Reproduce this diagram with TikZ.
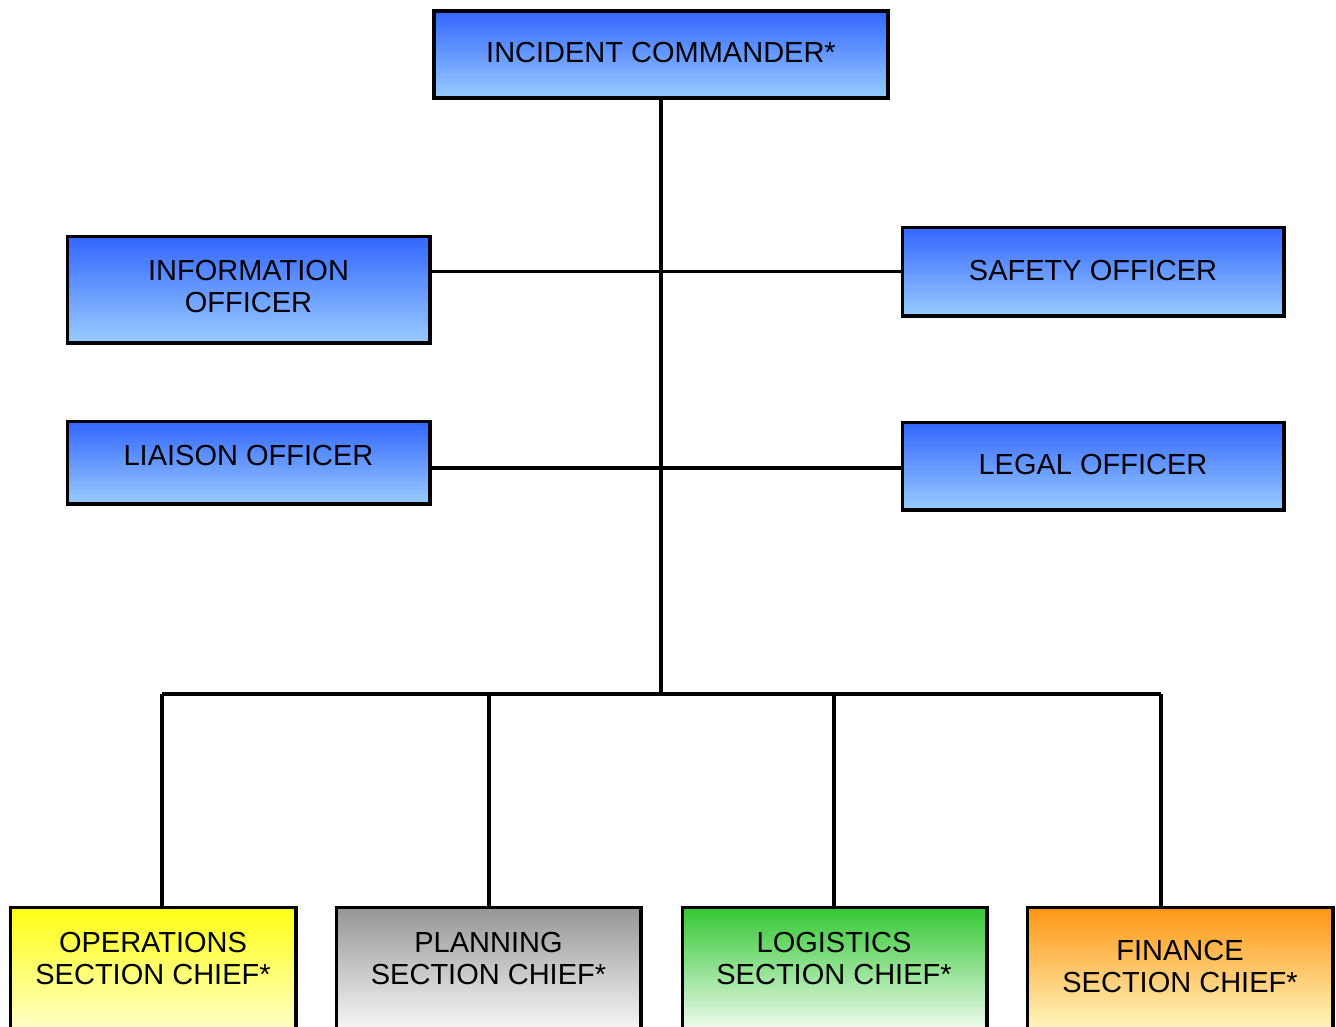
\documentclass[tikz,border=0pt]{standalone}
\usepackage{fontspec}
\setmainfont{Liberation Sans}
\definecolor{blueTop}{RGB}{51,102,255}
\definecolor{blueBot}{RGB}{153,204,255}
\definecolor{yelTop}{RGB}{255,255,20}
\definecolor{yelBot}{RGB}{255,255,215}
\definecolor{grayTop}{RGB}{150,150,150}
\definecolor{grayBot}{RGB}{255,255,255}
\definecolor{grnTop}{RGB}{51,200,51}
\definecolor{grnBot}{RGB}{255,255,255}
\definecolor{orgTop}{RGB}{255,150,20}
\definecolor{orgBot}{RGB}{255,255,205}
\begin{document}
\begin{tikzpicture}[x=1pt,y=-1pt,
  box/.style={draw=black, line width=3.5pt, rectangle, inner sep=0pt},
  bluebox/.style={box, top color=blueTop, bottom color=blueBot},
  lbl/.style={font=\fontsize{29}{32}\selectfont, align=center, inner sep=0pt, text=black},
  wire/.style={line width=3.4pt}]
\useasboundingbox (0,0) rectangle (1336,1027);
\clip (0,0) rectangle (1336,1027);

% command staff
\node[bluebox, minimum width=454pt, minimum height=87pt] (ic) at (661,54.5) {};
\node[bluebox, minimum width=362.5pt, minimum height=106.5pt] (info) at (248.75,289.75) {};
\node[bluebox, minimum width=362.5pt, minimum height=82.5pt] (liaison) at (248.75,462.75) {};
\node[bluebox, minimum width=381.5pt, minimum height=88.5pt] (safety) at (1093.25,271.75) {};
\node[bluebox, minimum width=381.5pt, minimum height=87.5pt] (legal) at (1093.25,466.25) {};

% general staff
\node[box, top color=yelTop, bottom color=yelBot, minimum width=285.5pt, minimum height=132.5pt] (ops) at (153.25,973.75) {};
\node[box, top color=grayTop, bottom color=grayBot, minimum width=304.5pt, minimum height=132.5pt] (plan) at (488.75,973.75) {};
\node[box, top color=grnTop, bottom color=grnBot, minimum width=304.5pt, minimum height=132.5pt] (logi) at (834.75,973.75) {};
\node[box, top color=orgTop, bottom color=orgBot, minimum width=305.5pt, minimum height=132.5pt] (fin) at (1180.25,973.75) {};

% labels
\node[lbl] (tic) at (661,53) {INCIDENT COMMANDER*};
\node[lbl] (tinfo) at (248.5,287) {INFORMATION\\OFFICER};
\node[lbl] (tliaison) at (248.5,456) {LIAISON OFFICER};
\node[lbl] (tsafety) at (1093,271) {SAFETY OFFICER};
\node[lbl] (tlegal) at (1093,465) {LEGAL OFFICER};
\node[lbl] (tops) at (153,959) {OPERATIONS\\SECTION CHIEF*};
\node[lbl] (tplan) at (488.5,959) {PLANNING\\SECTION CHIEF*};
\node[lbl] (tlogi) at (834,959) {LOGISTICS\\SECTION CHIEF*};
\node[lbl] (tfin) at (1180,967) {FINANCE\\SECTION CHIEF*};

% connectors
\coordinate (bus) at (661,694);
\coordinate (d1) at (162,694);
\coordinate (d2) at (489,694);
\coordinate (d3) at (834,694);
\coordinate (d4) at (1161,694);
\draw[wire] (ic.south) -- (bus);
\draw[wire] (safety.west -| info.east) -- (safety.west);
\draw[wire] (0,468 -| liaison.east) -- (0,468 -| legal.west);
\draw[wire] (d1) -- (d4);
\draw[wire] (d1) -- (d1 |- ops.north);
\draw[wire] (d2) -- (d2 |- plan.north);
\draw[wire] (d3) -- (d3 |- logi.north);
\draw[wire] (d4) -- (d4 |- fin.north);
\end{tikzpicture}
\end{document}
